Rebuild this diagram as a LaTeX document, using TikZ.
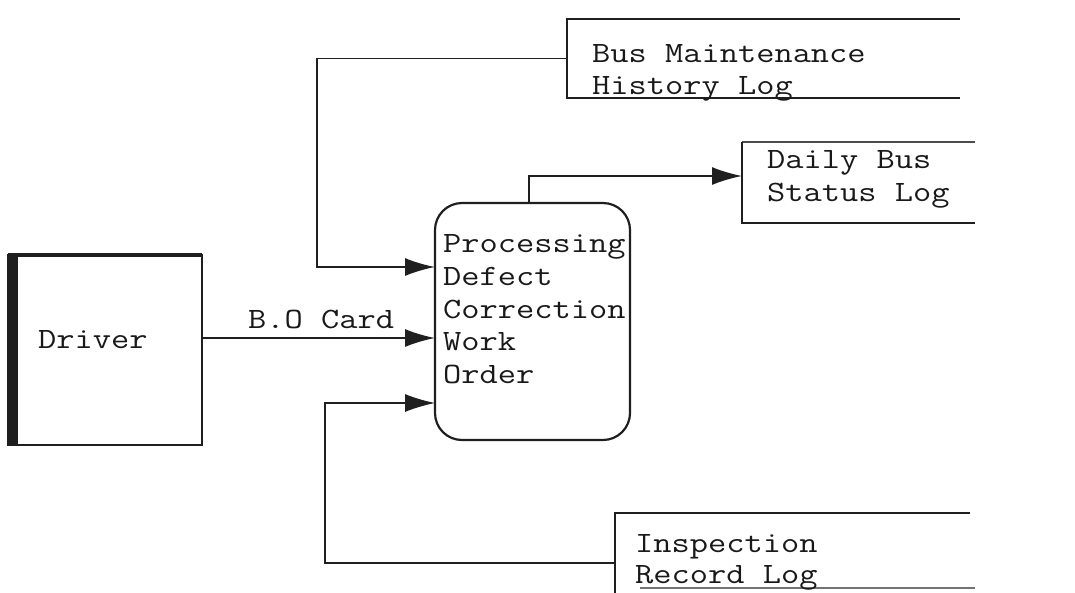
\documentclass[tikz,border=0pt]{standalone}
\usepackage{fontspec}
\newfontfamily\typewriter{Latin Modern Mono}[FakeStretch=1.2]
\usetikzlibrary{arrows.meta}
\begin{document}
\begin{tikzpicture}[x=1pt,y=-1pt,
  ink/.style={line width=1.8pt, draw=black!88},
  flow/.style={ink, -{Latex[length=30pt,width=18pt]}},
  txt/.style={anchor=base west, inner sep=0pt, text=black!90,
    font=\typewriter\fontsize{29.5}{33}\selectfont},
  area/.style={draw=none, rectangle, inner sep=0pt, outer sep=0pt,
    minimum width=#1},
]
\clip (0,0) rectangle (1075,592);

% external entity
\node[ink, draw, rectangle, inner sep=0pt, outer sep=0pt,
  minimum width=194pt, minimum height=190pt] (driver) at (105,350) {};
\fill[black!88] (driver.north west) rectangle ([xshift=10pt]driver.south west);
\draw[line width=4.5pt, black!88] (driver.north west) -- (driver.north east);
\node[txt] (drivertxt) at (38,348) {Driver};

% process
\node[ink, draw, rectangle, rounded corners=27pt, line width=2.2pt,
  inner sep=0pt, outer sep=0pt,
  minimum width=195pt, minimum height=237pt] (proc) at (532.5,321.5) {};
\node[txt] (p1) at (443,252) {Processing};
\node[txt] (p2) at (443,285) {Defect};
\node[txt] (p3) at (443,318) {Correction};
\node[txt] (p4) at (443,350) {Work};
\node[txt] (p5) at (443,383) {Order};

% data stores (open on the right)
\node[area=393pt, minimum height=79pt] (bml) at (763.5,58.5) {};
\draw[ink] (bml.north east) -- (bml.north west) -- (bml.south west) -- (bml.south east);
\node[txt] (b1) at (592,62) {Bus Maintenance};
\node[txt] (b2) at (592,94) {History Log};

\node[area=233pt, minimum height=81pt] (dbs) at (858.5,182.5) {};
\draw[line width=1.2pt, black!70] (dbs.north east) -- (dbs.north west);
\draw[ink] (dbs.north west) -- (dbs.south west) -- (dbs.south east);
\node[txt] (d1) at (767,168) {Daily Bus};
\node[txt] (d2) at (767,201) {Status Log};

\node[area=355pt, minimum height=100pt] (irl) at (792.5,563) {};
\draw[ink] (irl.north east) -- (irl.north west) -- (irl.south west);
\draw[line width=1.2pt, black!55] (640,588) -- (975,588);
\node[txt] (i1) at (635,552) {Inspection};
\node[txt] (i2) at (635,583) {Record Log};

% data flows
\coordinate (j1) at (317,267);
\draw[flow] (bml.west) -- (j1 |- bml.west) -- (j1) -- (proc.west |- j1);

\coordinate (j2) at (0,338);
\draw[flow] (driver.east |- j2) -- (proc.west |- j2);
\node[txt] (bo) at (248,328) {B.O Card};

\coordinate (j3) at (325,403);
\draw[flow, line width=1.3pt] (irl.west) -- (j3 |- irl.west) -- (j3) -- (proc.west |- j3);

\coordinate (j4) at (529,176);
\draw[flow] (proc.north -| j4) -- (j4) -- (dbs.west |- j4);
\end{tikzpicture}
\end{document}
